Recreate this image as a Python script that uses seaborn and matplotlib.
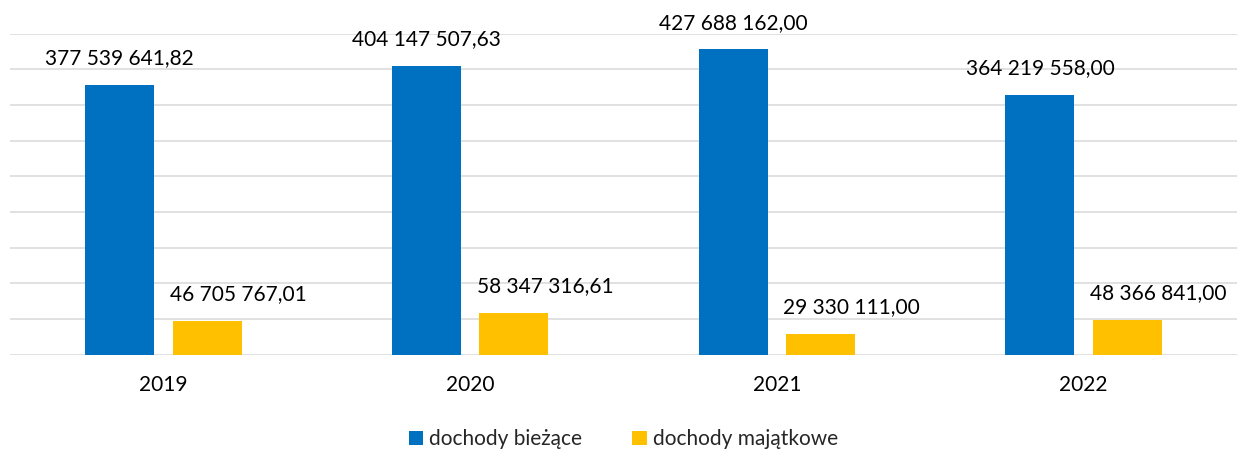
import matplotlib
matplotlib.use("Agg")
import matplotlib.pyplot as plt
import seaborn as sns
import pandas as pd

years = ["2019", "2020", "2021", "2022"]
series_names = ["dochody bieżące", "dochody majątkowe"]
dochody_biezace = [377539641.82, 404147507.63, 427688162.00, 364219558.00]
dochody_majatkowe = [46705767.01, 58347316.61, 29330111.00, 48366841.00]
colors = ["#0070C0", "#FFC000"]

df = pd.DataFrame({
    "rok": years * 2,
    "seria": [series_names[0]] * 4 + [series_names[1]] * 4,
    "wartosc": dochody_biezace + dochody_majatkowe,
})

sns.set_theme(style="white")
plt.rcParams["font.family"] = ["Lato", "DejaVu Sans"]

fig = plt.figure(figsize=(12.42, 4.5), dpi=100)
ax = fig.add_axes([10 / 1242, 95.5 / 450, 1227 / 1242, 321 / 450])

sns.barplot(data=df, x="rok", y="wartosc", hue="seria", palette=colors,
            width=0.57, gap=0.21, ax=ax, saturation=1, errorbar=None,
            edgecolor="none")

ax.set_ylim(0, 450e6)
ax.set_yticks([i * 50e6 for i in range(10)])
ax.set_yticklabels([])
ax.yaxis.grid(True, color="#D9D9D9", linewidth=1.1)
ax.set_axisbelow(True)
ax.tick_params(axis="y", length=0)
ax.tick_params(axis="x", length=0, labelsize=15, colors="#000000", pad=15)
ax.set_xlabel("")
ax.set_ylabel("")
for s in ax.spines.values():
    s.set_visible(False)


def fmt(v):
    s = f"{v:,.2f}"
    s = s.replace(",", " ").replace(".", ",")
    return s


blue_cont, yellow_cont = ax.containers[0], ax.containers[1]
ax.bar_label(blue_cont, labels=[fmt(b.get_height()) for b in blue_cont],
             padding=12, fontsize=15, color="#000000")
for b in yellow_cont:
    ax.annotate(fmt(b.get_height()), xy=(b.get_x(), b.get_height()),
                xytext=(-2, 12), textcoords="offset points",
                ha="left", va="bottom", fontsize=15, color="#000000")

handles, labels = ax.get_legend_handles_labels()
ax.legend(handles, labels, loc="upper center", bbox_to_anchor=(0.5, -0.175),
          ncol=2, frameon=False, fontsize=15, handlelength=0.7,
          handleheight=0.7, handletextpad=0.3, columnspacing=2.4)

fig.savefig("out.png", dpi=100)
